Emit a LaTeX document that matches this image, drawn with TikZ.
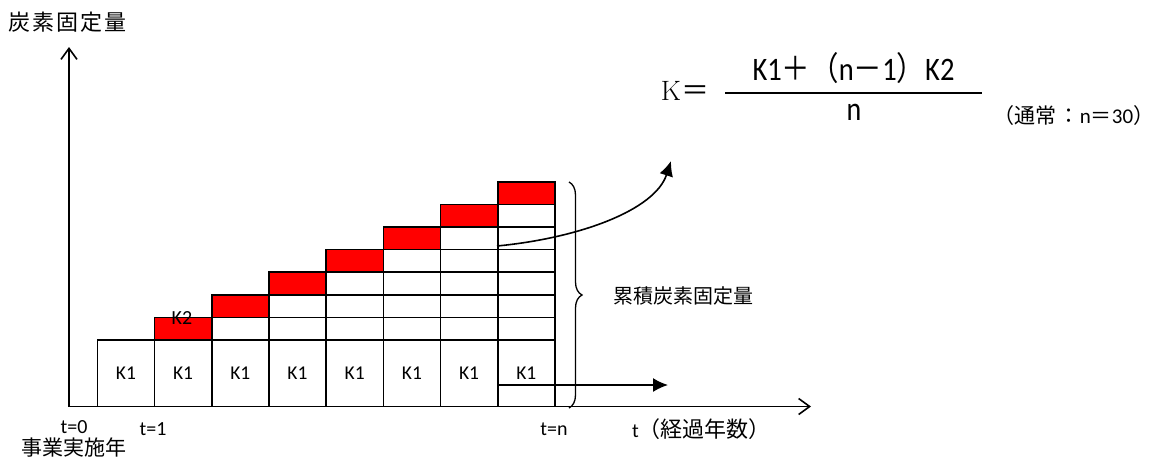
\documentclass[tikz,border=0pt]{standalone}
\usepackage{fontspec}
\newfontfamily\carl{Carlito}
\newfontfamily\jpf{Noto Sans CJK JP}
\usetikzlibrary{arrows.meta,decorations.pathreplacing}
\definecolor{cellred}{RGB}{255,0,0}
\tikzset{
  cellbox/.style={draw, line width=1.6pt, minimum width=57.2pt, minimum height=22.6pt, inner sep=0pt, outer sep=0pt, anchor=north west},
  redcell/.style={cellbox, fill=cellred},
  kbox/.style={cellbox, minimum height=66.5pt, font=\carl\fontsize{19.5}{22}\selectfont},
  axis/.style={line width=1.6pt, -{Straight Barb[length=11pt,width=16pt,line width=1.6pt]}},
  solidarrow/.style={line width=1.6pt, -{Latex[length=15pt,width=14pt]}},
  lab/.style={inner sep=0pt, font=\carl\fontsize{20}{24}\selectfont},
  jlab/.style={inner sep=0pt, font=\jpf\fontsize{20}{24}\selectfont},
}
\begin{document}
\begin{tikzpicture}[x=1pt,y=-1pt]
\useasboundingbox (0,0) rectangle (1157,459);
% cells
\foreach \k in {0,...,7} {
  \pgfmathsetmacro\xl{97.3+57.2*\k}
  \node[kbox] (kone-\k) at (\xl,340) {K1};
  \ifnum\k>0
    \foreach \j in {1,...,\k} {
      \ifnum\j=\k
        \node[redcell] (cell-\k-\j) at (\xl,{340-22.6*\j}) {};
      \else
        \node[cellbox] (cell-\k-\j) at (\xl,{340-22.6*\j}) {};
      \fi
    }
  \fi
}
\node[lab] (ktwo) at (182,318) {K2};
% axes
\coordinate (O) at (69,406.5);
\coordinate (ytop) at (69,47);
\coordinate (xend) at (811,406.5);
\draw[axis] (O) -- (ytop);
\draw[axis] (O) -- (xend);
% arrows
\coordinate (cs) at (497,246);
\coordinate (ce) at (671,161);
\draw[solidarrow] (cs) .. controls (580,238) and (655,210) .. (ce);
\coordinate (ss) at (497,385);
\coordinate (se) at (668,385);
\draw[solidarrow] (ss) -- (se);
% brace
\coordinate (bt) at (569,182);
\coordinate (bb) at (569,408);
\draw[line width=1.3pt, decorate, decoration={brace, amplitude=13pt}] (bt) -- (bb);
\node[jlab] (cum) at (683,296) {累積炭素固定量};
% labels
\node[jlab, font=\jpf\fontsize{22}{26}\selectfont] (ylab) at (68,22) {炭\hspace{2pt}素\hspace{2pt}固\hspace{2pt}定\hspace{2pt}量};
\node[lab] (t0) at (74,427) {t=0};
\node[jlab, font=\jpf\fontsize{21}{24}\selectfont] (jigyo) at (74,447) {事業実施年};
\node[lab] (t1) at (153,429) {t=1};
\node[lab] (tn) at (554,429) {t=n};
\node[lab, anchor=west] (tx) at (632,429) {t{\jpf\fontsize{22}{24}\selectfont （経過年数）}};
% formula
\node[inner sep=0pt, anchor=base, font=\fontsize{28}{32}\selectfont] (keq) at (685,100) {K\jpf ＝};
\draw[line width=1.6pt] (725,93) coordinate (fl) -- (982,93) coordinate (fr);
\node[inner sep=0pt, anchor=base, font=\carl\fontsize{28.5}{32}\selectfont] (num) at (853.5,80) {\scalebox{1}[1.15]{K1{\jpf ＋（}n{\jpf －}1{\jpf ）}K2}};
\node[inner sep=0pt, anchor=base, font=\carl\fontsize{28}{32}\selectfont] (den) at (854,120) {\scalebox{1}[1.2]{n}};
\node[inner sep=0pt, anchor=base, font=\carl\fontsize{21}{24}\selectfont] (usual) at (1074,123) {{\jpf （通常\hspace{2pt}：}n{\jpf ＝}30{\jpf ）}};
\end{tikzpicture}
\end{document}
